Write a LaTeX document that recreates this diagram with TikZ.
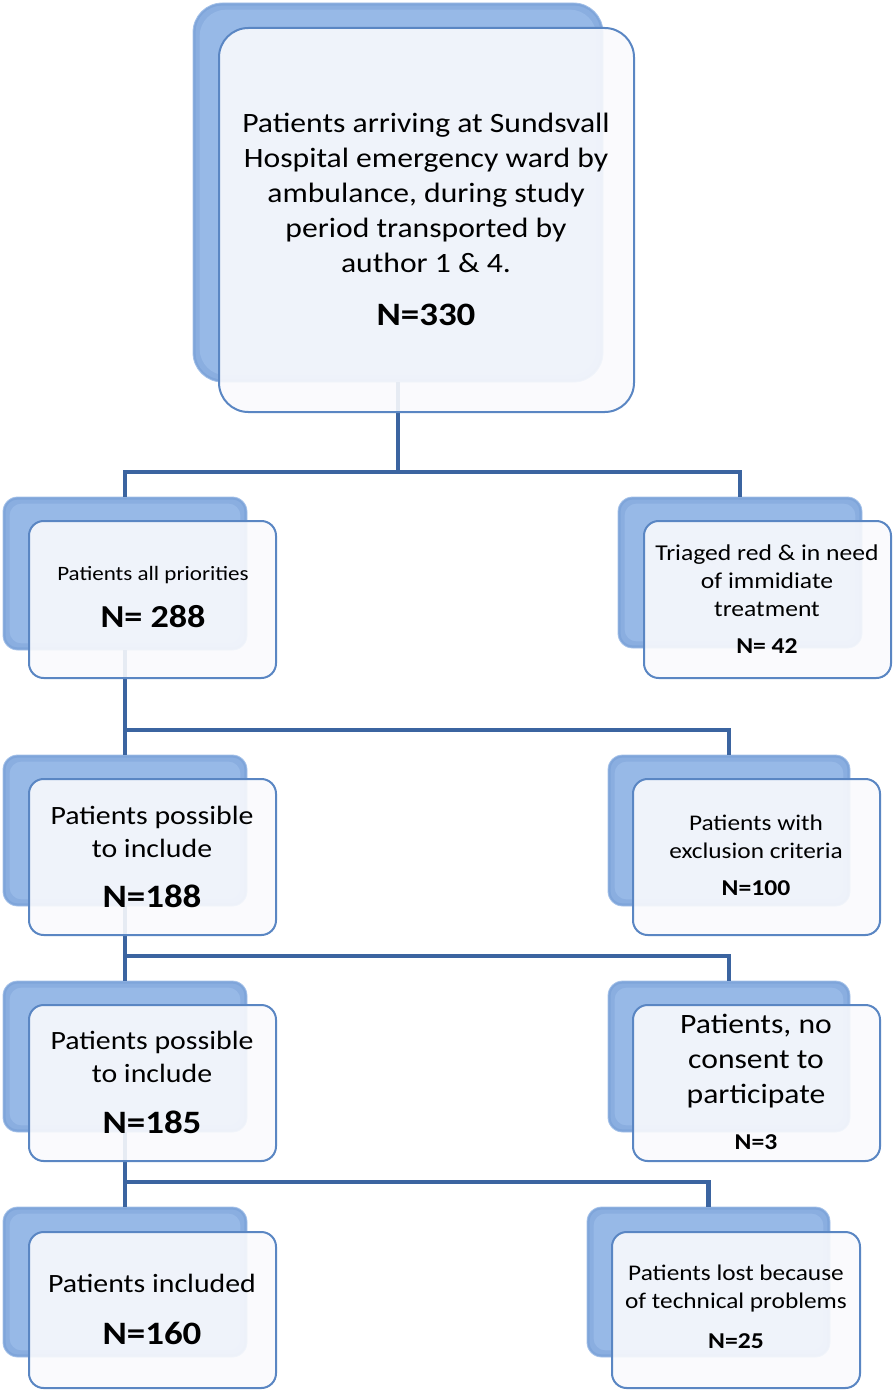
\documentclass[tikz,border=0pt]{standalone}
\usepackage{fontspec}
\setmainfont{Carlito}[FakeStretch=1.13]
\usetikzlibrary{fit}
\definecolor{backedge}{HTML}{A3C0E8}
\definecolor{backout}{HTML}{7FA5DA}
\definecolor{backmid}{HTML}{8AAEE0}
\definecolor{backin}{HTML}{97B9E7}
\definecolor{frontfill}{HTML}{F9FAFD}
\definecolor{frontedge}{HTML}{5A86C3}
\definecolor{linkblue}{HTML}{3B64A0}
\newcommand\bevelbox[2]{%
  \fill[backmid, rounded corners=#2] ([shift={(3,3)}]#1.north west) rectangle ([shift={(-3,-3)}]#1.south east);
  \fill[backin, rounded corners=#2] ([shift={(7,7)}]#1.north west) rectangle ([shift={(-7,-7)}]#1.south east);}
\begin{document}
\begin{tikzpicture}[x=0.75pt,y=-0.75pt,
  backbox/.style={rounded corners=#1, fill=backout, draw=backedge, line width=0.6pt, inner sep=0pt},
  backbox/.default=11pt,
  frontbox/.style={rounded corners=#1, fill=frontfill, fill opacity=0.9, draw=frontedge, draw opacity=1, line width=1.5pt, inner sep=0pt},
  frontbox/.default=11pt,
  link/.style={draw=linkblue, line width=3.3pt},
  txt/.style={align=center, inner sep=0pt, text=black}]
\useasboundingbox (0,0) rectangle (893,1391);
% back boxes
\node[backbox=22pt, fit={(193,3) (603,382)}] (b1) {};
\node[backbox, fit={(3,497) (247,650)}] (b2l) {};
\node[backbox, fit={(618,497) (862,648)}] (b2r) {};
\node[backbox, fit={(3,755) (247,906)}] (b3l) {};
\node[backbox, fit={(608,755) (850,906)}] (b3r) {};
\node[backbox, fit={(3,981) (247,1132)}] (b4l) {};
\node[backbox, fit={(608,981) (850,1132)}] (b4r) {};
\node[backbox, fit={(3,1207) (247,1357)}] (b5l) {};
\node[backbox, fit={(587,1207) (830,1357)}] (b5r) {};
\bevelbox{b1}{20pt}
\bevelbox{b2l}{9pt}\bevelbox{b2r}{9pt}
\bevelbox{b3l}{9pt}\bevelbox{b3r}{9pt}
\bevelbox{b4l}{9pt}\bevelbox{b4r}{9pt}
\bevelbox{b5l}{9pt}\bevelbox{b5r}{9pt}
% connectors
\coordinate (j1) at (398,472);
\draw[link] (b1.south) -- (j1);
\draw[link] (b2l.north) |- (j1) -| (b2r.north);
\coordinate (j2) at (125,730);
\draw[link] (b2l.south) -- (b3l.north);
\draw[link] (j2) -| (b3r.north);
\coordinate (j3) at (125,956);
\draw[link] (b3l.south) -- (b4l.north);
\draw[link] (j3) -| (b4r.north);
\coordinate (j4) at (125,1182);
\draw[link] (b4l.south) -- (b5l.north);
\draw[link] (j4) -| (b5r.north);
% front boxes
\node[frontbox=22pt, fit={(219,28) (634,412)}] (f1) {};
\node[frontbox, fit={(29,521) (276,678)}] (f2l) {};
\node[frontbox, fit={(644,521) (891,678)}] (f2r) {};
\node[frontbox, fit={(29,779) (276,935)}] (f3l) {};
\node[frontbox, fit={(633,779) (880,935)}] (f3r) {};
\node[frontbox, fit={(29,1005) (276,1161)}] (f4l) {};
\node[frontbox, fit={(633,1005) (880,1161)}] (f4r) {};
\node[frontbox, fit={(29,1232) (276,1388)}] (f5l) {};
\node[frontbox, fit={(612,1232) (860,1388)}] (f5r) {};
% texts
\node[txt, font=\fontsize{21}{26.25}\selectfont] (t1) at (426,193) {Patients arriving at Sundsvall\\Hospital emergency ward by\\ambulance, during study\\period transported by\\author 1 \& 4.};
\node[txt, font=\fontsize{24.5}{30}\selectfont\bfseries] (n1) at (426,315) {N=330};
\node[txt, font=\fontsize{15.3}{20}\selectfont] (t2l) at (153,575) {Patients all priorities};
\node[txt, font=\fontsize{24}{30}\selectfont\bfseries] (n2l) at (153,617) {N= 288};
\node[txt, font=\fontsize{17}{21}\selectfont] (t2r) at (767,581) {Triaged red \& in need\\of immidiate\\treatment};
\node[txt, font=\fontsize{17}{19}\selectfont\bfseries] (n2r) at (767,646) {N= 42};
\node[txt, font=\fontsize{19.8}{24.75}\selectfont] (t3l) at (152,831.5) {Patients possible\\to include};
\node[txt, font=\fontsize{24.5}{30}\selectfont\bfseries] (n3l) at (152,896) {N=188};
\node[txt, font=\fontsize{16.8}{21}\selectfont] (t3r) at (756,837) {Patients with\\exclusion criteria};
\node[txt, font=\fontsize{17}{19}\selectfont\bfseries] (n3r) at (756,888) {N=100};
\node[txt, font=\fontsize{19.8}{24.75}\selectfont] (t4l) at (152,1057) {Patients possible\\to include};
\node[txt, font=\fontsize{24.5}{30}\selectfont\bfseries] (n4l) at (152,1122) {N=185};
\node[txt, font=\fontsize{21}{26.25}\selectfont] (t4r) at (756,1061) {Patients, no\\consent to\\participate};
\node[txt, font=\fontsize{17}{19}\selectfont\bfseries] (n4r) at (756,1142) {N=3};
\node[txt, font=\fontsize{19.8}{24.75}\selectfont] (t5l) at (152,1283) {Patients included};
\node[txt, font=\fontsize{24.5}{30}\selectfont\bfseries] (n5l) at (152,1333) {N=160};
\node[txt, font=\fontsize{16.8}{21}\selectfont] (t5r) at (736,1289) {Patients lost because\\of technical problems};
\node[txt, font=\fontsize{17}{19}\selectfont\bfseries] (n5r) at (736,1341) {N=25};
\end{tikzpicture}
\end{document}
